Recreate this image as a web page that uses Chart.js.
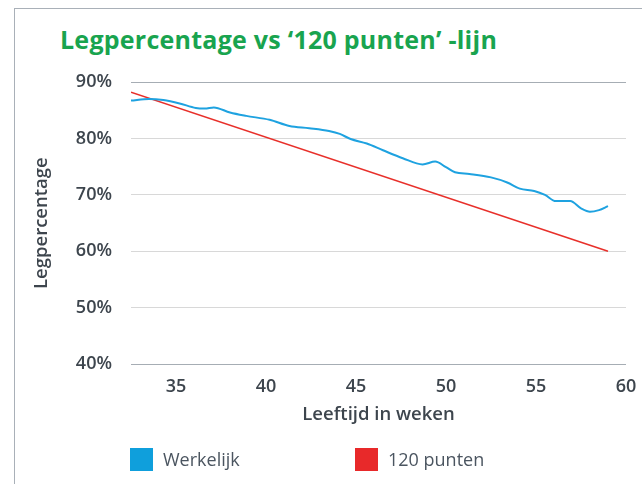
<!DOCTYPE html>
<html>
<head>
<meta charset="utf-8">
<script src="https://cdn.jsdelivr.net/npm/chart.js@4"></script>
<style>
  html, body { margin: 0; padding: 0; background: #fff; }
  #wrap { position: relative; width: 642px; height: 484px; overflow: hidden; font-family: 'Open Sans', sans-serif; }
  #frame { position: absolute; left: 14px; top: 8px; right: -2px; bottom: -2px;
           border-left: 1px solid #a9b0b8; border-top: 1px solid #a9b0b8; }
  #title { position: absolute; left: 60px; top: 22px; font-size: 25px; font-weight: 700;
           letter-spacing: 0.25px; color: #19a44f; white-space: nowrap; }
  #chartBox { position: absolute; left: 0; top: 0; width: 642px; height: 484px; }
  #legend { position: absolute; left: 130px; top: 447px; display: flex; }
  .item { width: 225px; display: flex; align-items: center; }
  .swatch { width: 23px; height: 23px; margin-right: 10px; }
  .item span { font-size: 18px; color: #4b5560; }
</style>
</head>
<body>
<div id="wrap">
  <div id="frame"></div>
  <div id="title">Legpercentage vs ‘120 punten’ -lijn</div>
  <div id="chartBox"><canvas id="chart"></canvas></div>
  <div id="legend"></div>
</div>
<script>
// data
const weeks = [32.5, 33.5, 34.3, 35.2, 36.1, 36.6, 37.1, 38.0, 38.9, 40.2, 41.3, 42.4, 43.5, 44.1,
  44.7, 45.6, 46.5, 47.6, 48.7, 49.4, 50.0, 50.5, 51.3, 52.5, 53.4, 54.1, 54.9, 55.5, 56.1,
  56.9, 57.5, 58.0, 58.5, 59.0];
const werkelijk = [86.7, 87.0, 86.8, 86.2, 85.4, 85.3, 85.5, 84.6, 84.0, 83.3, 82.2, 81.8, 81.3, 80.8,
  79.9, 79.1, 77.9, 76.5, 75.4, 75.9, 74.9, 74.0, 73.7, 73.1, 72.2, 71.1, 70.7, 70.0, 68.9,
  68.9, 67.6, 67.0, 67.3, 68.0];
const puntenWeeks = [32.5, 59];
const punten = [88.2, 60];
const xTicks = [35, 40, 45, 50, 55, 60];
const yTicks = [40, 50, 60, 70, 80, 90];

const blue = '#1ea2e0';
const red = '#e8302b';
const textColor = '#3d454d';

const datasets = [
  {
    label: 'Werkelijk',
    data: weeks.map((w, i) => ({ x: w, y: werkelijk[i] })),
    borderColor: blue,
    legendColor: '#0f9fdc',
    borderWidth: 2,
    pointRadius: 0,
    cubicInterpolationMode: 'monotone',
  },
  {
    label: '120 punten',
    data: puntenWeeks.map((w, i) => ({ x: w, y: punten[i] })),
    borderColor: red,
    legendColor: '#e8292a',
    borderWidth: 1.5,
    pointRadius: 0,
  },
];

const chart = new Chart(document.getElementById('chart'), {
  type: 'line',
  data: { datasets },
  options: {
    responsive: true,
    maintainAspectRatio: false,
    animation: false,
    layout: { padding: { left: 28, right: 16, top: 82, bottom: 58 } },
    plugins: {
      legend: { display: false },
      tooltip: { enabled: false },
    },
    scales: {
      x: {
        type: 'linear',
        min: 32.5,
        max: 60,
        afterBuildTicks: (s) => { s.ticks = xTicks.map((v) => ({ value: v })); },
        afterFit: (s) => { s.paddingLeft = 0; s.paddingRight = 0; },
        grid: { display: false, drawTicks: false },
        border: { display: false },
        ticks: { color: textColor, padding: 12, maxRotation: 0,
                 font: { family: 'Open Sans', size: 18, weight: 600 } },
        title: { display: true, text: 'Leeftijd in weken', color: textColor,
                 padding: { top: -6, bottom: 0 },
                 font: { family: 'Open Sans', size: 18.5, weight: 600 } },
      },
      y: {
        min: 40,
        max: 90,
        afterBuildTicks: (s) => { s.ticks = yTicks.map((v) => ({ value: v })); },
        afterFit: (s) => { s.width = 103; },
        grid: {
          drawTicks: false,
          color: (c) => (c.tick && (c.tick.value === 90 || c.tick.value === 40)) ? '#a6adb4' : '#d8d8d8',
        },
        border: { display: false },
        ticks: { color: textColor, padding: 19, callback: (v) => v + '%',
                 font: { family: 'Open Sans', size: 18, weight: 600 } },
        title: { display: true, text: 'Legpercentage', color: textColor,
                 padding: { top: 3, bottom: 0 },
                 font: { family: 'Open Sans', size: 18.5, weight: 600 } },
      },
    },
  },
});

// legend built from the datasets
const legend = document.getElementById('legend');
datasets.forEach((d) => {
  const item = document.createElement('div');
  item.className = 'item';
  item.innerHTML = '<div class="swatch" style="background:' + d.legendColor + '"></div><span>' + d.label + '</span>';
  legend.appendChild(item);
});
</script>
</body>
</html>
